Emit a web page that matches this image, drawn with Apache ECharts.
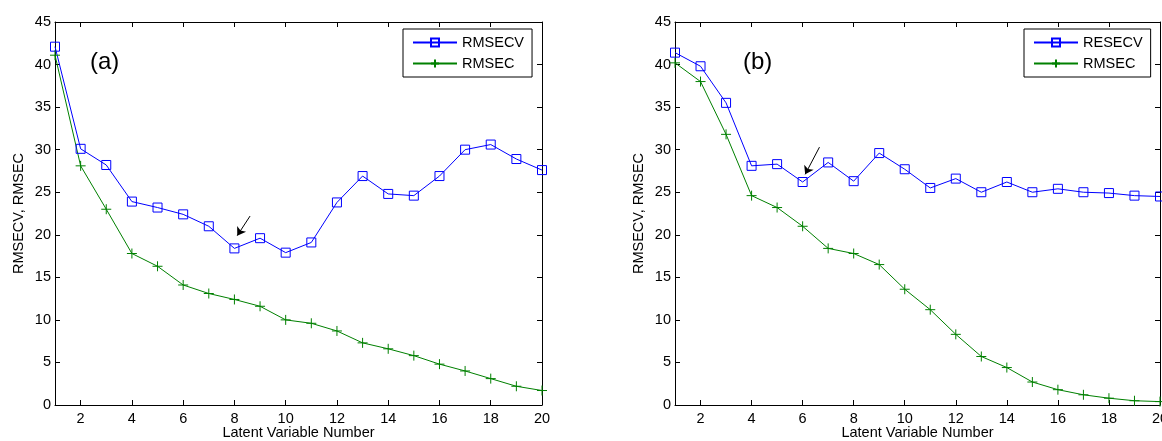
<!DOCTYPE html>
<html>
<head>
<meta charset="utf-8">
<title>RMSECV / RMSEC</title>
<script src="https://cdn.jsdelivr.net/npm/echarts@6/dist/echarts.min.js"></script>
<style>
  html, body { margin: 0; padding: 0; background: #fff; }
  #chart { width: 1162px; height: 441px; }
</style>
</head>
<body>
<div id="chart"></div>
<script>
/** latent variable numbers (x) */
const latentNums = [1, 2, 3, 4, 5, 6, 7, 8, 9, 10, 11, 12, 13, 14, 15, 16, 17, 18, 19, 20]
/** x tick labels */
const xTicks = [2, 4, 6, 8, 10, 12, 14, 16, 18, 20]

/** panel (a) */
const rmsecvA = [42.1, 30.1, 28.2, 23.9, 23.2, 22.4, 21.0, 18.4, 19.6, 17.9, 19.1, 23.8, 26.9, 24.8, 24.6, 26.9, 30.0, 30.6, 28.9, 27.6]
const rmsecA = [41.1, 28.1, 23.0, 17.8, 16.3, 14.1, 13.1, 12.4, 11.6, 10.0, 9.6, 8.7, 7.3, 6.6, 5.8, 4.8, 4.0, 3.1, 2.2, 1.7]

/** panel (b) */
const resecvB = [41.4, 39.8, 35.5, 28.1, 28.3, 26.2, 28.5, 26.3, 29.6, 27.7, 25.5, 26.6, 25.0, 26.2, 25.0, 25.4, 25.0, 24.9, 24.6, 24.5]
const rmsecB = [40.2, 38.0, 31.8, 24.6, 23.2, 21.0, 18.4, 17.8, 16.5, 13.6, 11.2, 8.3, 5.7, 4.4, 2.7, 1.8, 1.2, 0.8, 0.5, 0.4]

/** arrow annotations: [tail, tip] in data units */
const arrowA = [[8.61, 22.2], [8.11, 19.9]]
const arrowB = [[6.66, 30.3], [6.1, 27.1]]

const FONT = '"Liberation Sans", Arial, Helvetica, sans-serif'
const FS = 14.5
const BLUE = '#0000ff'
const GREEN = '#008000'
const PLUS = 'path://M0,5L10,5M5,0L5,10'

function pairs(values) {
  return latentNums.map((n, i) => [n, values[i]])
}

/** four axes per grid so the box is closed like matlab */
function xAxes(gridIndex) {
  const base = {
    type: 'value',
    gridIndex: gridIndex,
    min: 1,
    max: 20,
    splitLine: { show: false },
    axisLine: { show: true, onZero: false, lineStyle: { color: '#000', width: 1 } },
    axisTick: { show: true, inside: true, length: 5, customValues: xTicks, lineStyle: { color: '#000' } },
  }
  return [
    {
      ...base,
      position: 'bottom',
      name: 'Latent Variable Number',
      nameLocation: 'middle',
      nameGap: 20,
      nameMoveOverlap: false,
      nameTextStyle: { fontFamily: FONT, fontSize: FS, color: '#000', verticalAlign: 'top' },
      axisLabel: { show: true, customValues: xTicks, margin: 6, fontFamily: FONT, fontSize: FS, color: '#000', hideOverlap: false },
    },
    { ...base, position: 'top', axisLabel: { show: false } },
  ]
}

function yAxes(gridIndex) {
  const base = {
    type: 'value',
    gridIndex: gridIndex,
    min: 0,
    max: 45,
    interval: 5,
    splitLine: { show: false },
    axisLine: { show: true, onZero: false, lineStyle: { color: '#000', width: 1 } },
    axisTick: { show: true, inside: true, length: 5, lineStyle: { color: '#000' } },
  }
  return [
    {
      ...base,
      position: 'left',
      name: 'RMSECV, RMSEC',
      nameLocation: 'middle',
      nameGap: 29,
      nameTextStyle: { fontFamily: FONT, fontSize: FS, color: '#000' },
      axisLabel: { show: true, margin: 4, fontFamily: FONT, fontSize: FS, color: '#000' },
    },
    { ...base, position: 'right', axisLabel: { show: false } },
  ]
}

function arrowLine(arrow) {
  return {
    silent: true,
    symbol: ['none', 'arrow'],
    symbolSize: 8,
    label: { show: false },
    lineStyle: { color: '#000', width: 1, type: 'solid' },
    emphasis: { disabled: true },
    data: [[{ coord: arrow[0] }, { coord: arrow[1] }]],
  }
}

function cvSeries(name, values, axisBase, arrow) {
  return {
    name: name,
    type: 'line',
    xAxisIndex: axisBase,
    yAxisIndex: axisBase,
    data: pairs(values),
    symbol: 'rect',
    symbolSize: 9,
    showAllSymbol: true,
    lineStyle: { color: BLUE, width: 1 },
    itemStyle: { color: 'rgba(0,0,0,0)', borderColor: BLUE, borderWidth: 1 },
    markLine: arrowLine(arrow),
  }
}

function cSeries(name, values, axisBase) {
  return {
    name: name,
    type: 'line',
    xAxisIndex: axisBase,
    yAxisIndex: axisBase,
    data: pairs(values),
    symbol: PLUS,
    symbolSize: 10,
    showAllSymbol: true,
    lineStyle: { color: GREEN, width: 1 },
    itemStyle: { color: GREEN, borderColor: GREEN, borderWidth: 1 },
  }
}

function legendBox(names, left) {
  return {
    data: names,
    orient: 'vertical',
    left: left,
    top: 29,
    itemWidth: 44,
    itemHeight: 10,
    itemGap: 6,
    padding: [6, 8, 6, 9],
    selectedMode: false,
    backgroundColor: '#fff',
    borderColor: '#000',
    borderWidth: 1,
    borderRadius: 0,
    textStyle: { fontFamily: FONT, fontSize: FS, color: '#000', lineHeight: 15 },
  }
}

const chart = echarts.init(document.getElementById('chart'), null, { renderer: 'canvas' })

const option = {
  animation: false,
  backgroundColor: '#fff',
  textStyle: { fontFamily: FONT },
  title: [
    { text: '(a)', left: 90, top: 50, padding: 0, textStyle: { fontFamily: FONT, fontSize: 24, fontWeight: 'normal', color: '#000' } },
    { text: '(b)', left: 743, top: 50, padding: 0, textStyle: { fontFamily: FONT, fontSize: 24, fontWeight: 'normal', color: '#000' } },
  ],
  legend: [
    legendBox(['RMSECV', 'RMSEC'], 403),
    legendBox(['RESECV', 'RMSEC'], 1024),
  ],
  grid: [
    { left: 55, top: 22, width: 487, height: 383, outerBoundsMode: 'none' },
    { left: 675, top: 22, width: 485, height: 383, outerBoundsMode: 'none' },
  ],
  xAxis: [...xAxes(0), ...xAxes(1)],
  yAxis: [...yAxes(0), ...yAxes(1)],
  series: [
    cvSeries('RMSECV', rmsecvA, 0, arrowA),
    cSeries('RMSEC', rmsecA, 0),
    cvSeries('RESECV', resecvB, 2, arrowB),
    cSeries('RMSEC', rmsecB, 2),
  ],
}

chart.setOption(option)
</script>
</body>
</html>
